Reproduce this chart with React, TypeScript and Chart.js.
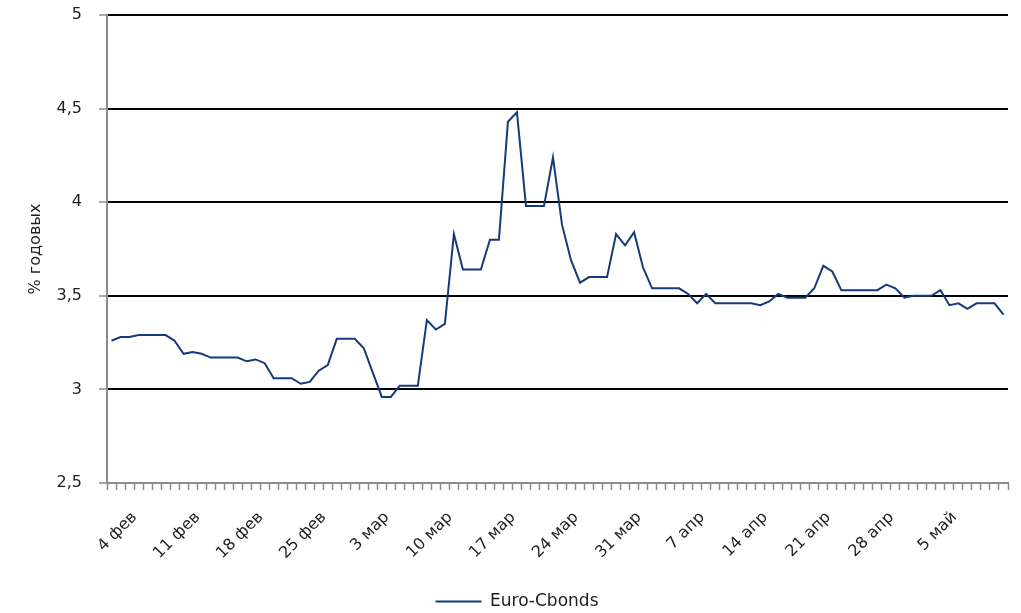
import React, { useEffect, useRef } from 'react';
import { Chart, registerables } from 'chart.js';

Chart.register(...registerables);

// Calendar of daily categories (1 Feb – 10 May)
const monthSpans: [string, number][] = [
  ['фев', 29],
  ['мар', 31],
  ['апр', 30],
  ['май', 10],
];
const categories: string[] = monthSpans.flatMap(([m, n]) =>
  Array.from({ length: n }, (_, i) => `${i + 1} ${m}`)
);

// Labels shown on the x axis
const tickLabels = [
  '4 фев', '11 фев', '18 фев', '25 фев', '3 мар', '10 мар', '17 мар',
  '24 мар', '31 мар', '7 апр', '14 апр', '21 апр', '28 апр', '5 май',
];

const seriesName = 'Euro-Cbonds';
const euroCbonds = [
  3.26, 3.28, 3.28, 3.29, 3.29, 3.29, 3.29, 3.26, 3.19, 3.20,
  3.19, 3.17, 3.17, 3.17, 3.17, 3.15, 3.16, 3.14, 3.06, 3.06,
  3.06, 3.03, 3.04, 3.10, 3.13, 3.27, 3.27, 3.27, 3.22, 3.09,
  2.96, 2.96, 3.02, 3.02, 3.02, 3.37, 3.32, 3.35, 3.83, 3.64,
  3.64, 3.64, 3.80, 3.80, 4.43, 4.48, 3.98, 3.98, 3.98, 4.24,
  3.88, 3.69, 3.57, 3.60, 3.60, 3.60, 3.83, 3.77, 3.84, 3.65,
  3.54, 3.54, 3.54, 3.54, 3.51, 3.46, 3.51, 3.46, 3.46, 3.46,
  3.46, 3.46, 3.45, 3.47, 3.51, 3.49, 3.49, 3.49, 3.54, 3.66,
  3.63, 3.53, 3.53, 3.53, 3.53, 3.53, 3.56, 3.54, 3.49, 3.50,
  3.50, 3.50, 3.53, 3.45, 3.46, 3.43, 3.46, 3.46, 3.46, 3.40,
];

const yMin = 2.5;
const yMax = 5;
const yStep = 0.5;
const yTitle = '% годовых';

const FONT = '"DejaVu Sans", sans-serif';
const TEXT = '#1e1e1e';
const AXIS = '#8c8c8c';
const LINE = '#173a7a';

const PAD_LEFT = 26;

export default function App() {
  const ref = useRef<HTMLCanvasElement | null>(null);

  useEffect(() => {
    if (!ref.current) return;
    const chart = new Chart(ref.current, {
      type: 'line',
      data: {
        labels: categories,
        datasets: [
          {
            label: seriesName,
            data: euroCbonds,
            borderColor: LINE,
            backgroundColor: LINE,
            borderWidth: 2,
            pointRadius: 0,
            tension: 0,
            fill: false,
          },
        ],
      },
      options: {
        animation: false,
        responsive: false,
        maintainAspectRatio: false,
        events: [],
        layout: { padding: { left: PAD_LEFT, right: 13, top: 15, bottom: 0 } },
        plugins: {
          tooltip: { enabled: false },
          legend: {
            position: 'bottom',
            maxHeight: 20,
            labels: {
              usePointStyle: true,
              pointStyle: 'line',
              pointStyleWidth: 46,
              padding: 0,
              color: TEXT,
              font: { family: FONT, size: 17 },
            },
          },
        },
        scales: {
          x: {
            type: 'category',
            offset: true,
            grid: {
              display: true,
              drawOnChartArea: false,
              drawTicks: true,
              tickLength: 7,
              tickColor: AXIS,
              tickWidth: 1.5,
              offset: true,
            },
            border: { display: true, color: AXIS, width: 2 },
            ticks: {
              autoSkip: false,
              maxRotation: 45,
              minRotation: 45,
              padding: 18,
              labelOffset: -4,
              color: TEXT,
              font: { family: FONT, size: 16 },
              callback: (_v: any, i: number) =>
                tickLabels.includes(categories[i]) ? categories[i] : '',
            },
            afterFit: (s: any) => {
              s.height = 110;
              s.paddingLeft = 0;
              s.paddingRight = 0;
            },
          },
          y: {
            min: yMin,
            max: yMax,
            grid: {
              color: (ctx: any) =>
                ctx.tick && ctx.tick.value === yMin ? 'rgba(0,0,0,0)' : '#000',
              lineWidth: 2,
              tickLength: 8,
              tickColor: AXIS,
              tickWidth: 1.5,
            },
            border: { display: true, color: AXIS, width: 2 },
            ticks: {
              stepSize: yStep,
              padding: 17,
              color: TEXT,
              font: { family: FONT, size: 16 },
              callback: (v: any) => String(v).replace('.', ','),
            },
            title: {
              display: true,
              text: yTitle,
              color: TEXT,
              font: { family: FONT, size: 16 },
              padding: { top: 0, bottom: 0 },
            },
            afterFit: (s: any) => {
              s.width = 107 - PAD_LEFT;
              s.paddingTop = 0;
              s.paddingBottom = 0;
            },
          },
        },
      },
    });
    return () => chart.destroy();
  }, []);

  return (
    <div style={{ position: 'absolute', left: 0, top: 0, width: 1021, height: 613, background: '#fff' }}>
      <canvas ref={ref} width={1021} height={613} style={{ width: 1021, height: 613 }} />
    </div>
  );
}
